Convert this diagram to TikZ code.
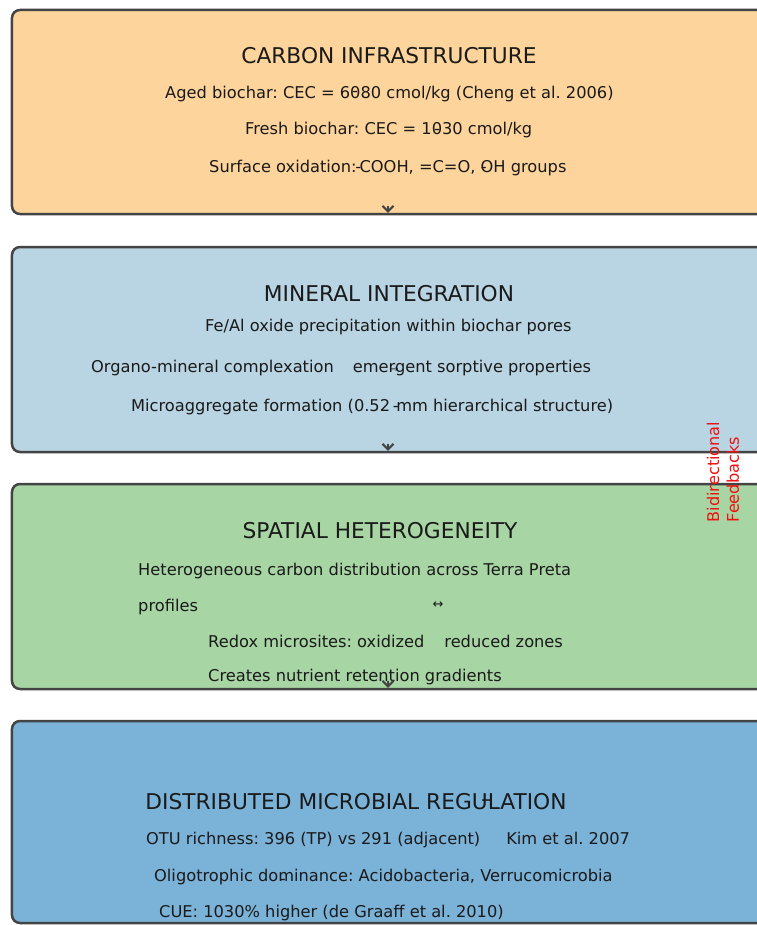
\documentclass[tikz,border=0pt]{standalone}
\usepackage{fontspec}
\setmainfont{DejaVu Sans}
\usetikzlibrary{arrows.meta}
\definecolor{edgegray}{HTML}{444444}
\definecolor{fillA}{HTML}{FDD49B}
\definecolor{fillB}{HTML}{B9D4E3}
\definecolor{fillC}{HTML}{A8D5A4}
\definecolor{fillD}{HTML}{7BB2D8}
\definecolor{txt}{HTML}{1A1A1A}
\definecolor{fbred}{HTML}{F01010}
\frenchspacing
\begin{document}
\begin{tikzpicture}[x=1bp,y=-1bp,
  box/.style={draw=edgegray, line width=2.5bp, rounded corners=8bp, minimum width=760bp, inner sep=0pt},
  ttl/.style={font=\fontsize{21.8}{26}\selectfont, text=txt, inner sep=0pt},
  body/.style={font=\fontsize{16.3}{19}\selectfont, text=txt, inner sep=0pt, anchor=west},
  flowtip/.style={draw=edgegray, line width=2.1bp, -{Straight Barb[length=5.5bp,width=11bp]}},
  fb/.style={font=\fontsize{16.2}{20}\selectfont, text=fbred, rotate=90, align=left, inner sep=0pt}]
\useasboundingbox (0,0) rectangle (757,925);
\clip (0,0) rectangle (757,925);
\fill[white] (0,0) rectangle (757,925);

% boxes
\node[box, fill=fillA, minimum height=204bp] (b1) at (392,112) {};
\node[box, fill=fillB, minimum height=205bp] (b2) at (392,349.5) {};
\node[box, fill=fillC, minimum height=205bp] (b3) at (392,586.5) {};
\node[box, fill=fillD, minimum height=202bp] (b4) at (392,822) {};

% box 1
\node[ttl] (t1) at (389,56) {CARBON INFRASTRUCTURE};
\node[body] (l11) at (165,94) {Aged biochar: CEC = 6\rlap{\kern0.12em\raisebox{0.25ex}{-}}080 cmol/kg (Cheng et al. 2006)};
\node[body] (l12) at (245,130) {Fresh biochar: CEC = 1\rlap{\kern0.14em -}030 cmol/kg};
\node[body] (l13) at (209,168) {Surface oxidation:\kern-0.08em-\kern-0.1em COOH, =C=O, \rlap{\kern0.02em -}OH groups};

% box 2
\node[ttl] (t2) at (389,294) {MINERAL INTEGRATION};
\node[body] (l21) at (205,327) {Fe/Al oxide precipitation within biochar pores};
\node[body] (l22) at (91,368) {Organo-mineral complexation\hspace{19bp}eme\rlap{\kern0.1em\fontsize{10}{10}\selectfont →}rgent sorptive properties};
\node[body] (l23) at (131,407) {Microaggregate formation (0.52 \kern-0.15em-\kern-0.15em mm hierarchical structure)};

% box 3
\node[ttl] (t3) at (380,531) {SPATIAL HETEROGENEITY};
\node[body] (l31) at (138,571) {Heterogeneous carbon distribution across Terra Preta};
\node[body] (l32) at (138,607) {profiles};
\node[font=\fontsize{13}{13}\selectfont, text=txt, inner sep=0pt] (dbl) at (438,605) {↔};
\node[body] (l33) at (208,641) {Redox microsites: oxidized\hspace{20bp}reduced zones};
\node[body] (l34) at (208,677) {Creates nutrient retention gradients};

% box 4
\node[ttl] (t4) at (356,802) {DISTRIBUTED MICROBIAL REGU\rlap{\kern-0.3em\raisebox{0.3ex}{–}}LATION};
\node[body] (l41) at (146,840) {OTU richness: 396 (TP) vs 291 (adjacent)\hspace{26bp}Kim et al. 2007};
\node[body] (l42) at (154,877) {Oligotrophic do\rlap{\raisebox{-0.35ex}{\kern0.1em -}}minance: Acidobacteria, Verrucomicrobia};
\node[body] (l43) at (159,913) {CUE: 1030\% higher (de Graaff et al. 2010)};

% side label
\node[fb] (fb) at (723,472) {Bidirectional\\Feedbacks};

% flow arrows
\coordinate (a1) at (388,206);
\coordinate (a2) at (388,443.5);
\coordinate (a3) at (388,680.5);
\draw[flowtip] (a1) -- ([yshift=2.5bp]a1 |- b1.south);
\draw[flowtip] (a2) -- ([yshift=2.5bp]a2 |- b2.south);
\draw[flowtip] (a3) -- ([yshift=2.5bp]a3 |- b3.south);
\end{tikzpicture}
\end{document}
